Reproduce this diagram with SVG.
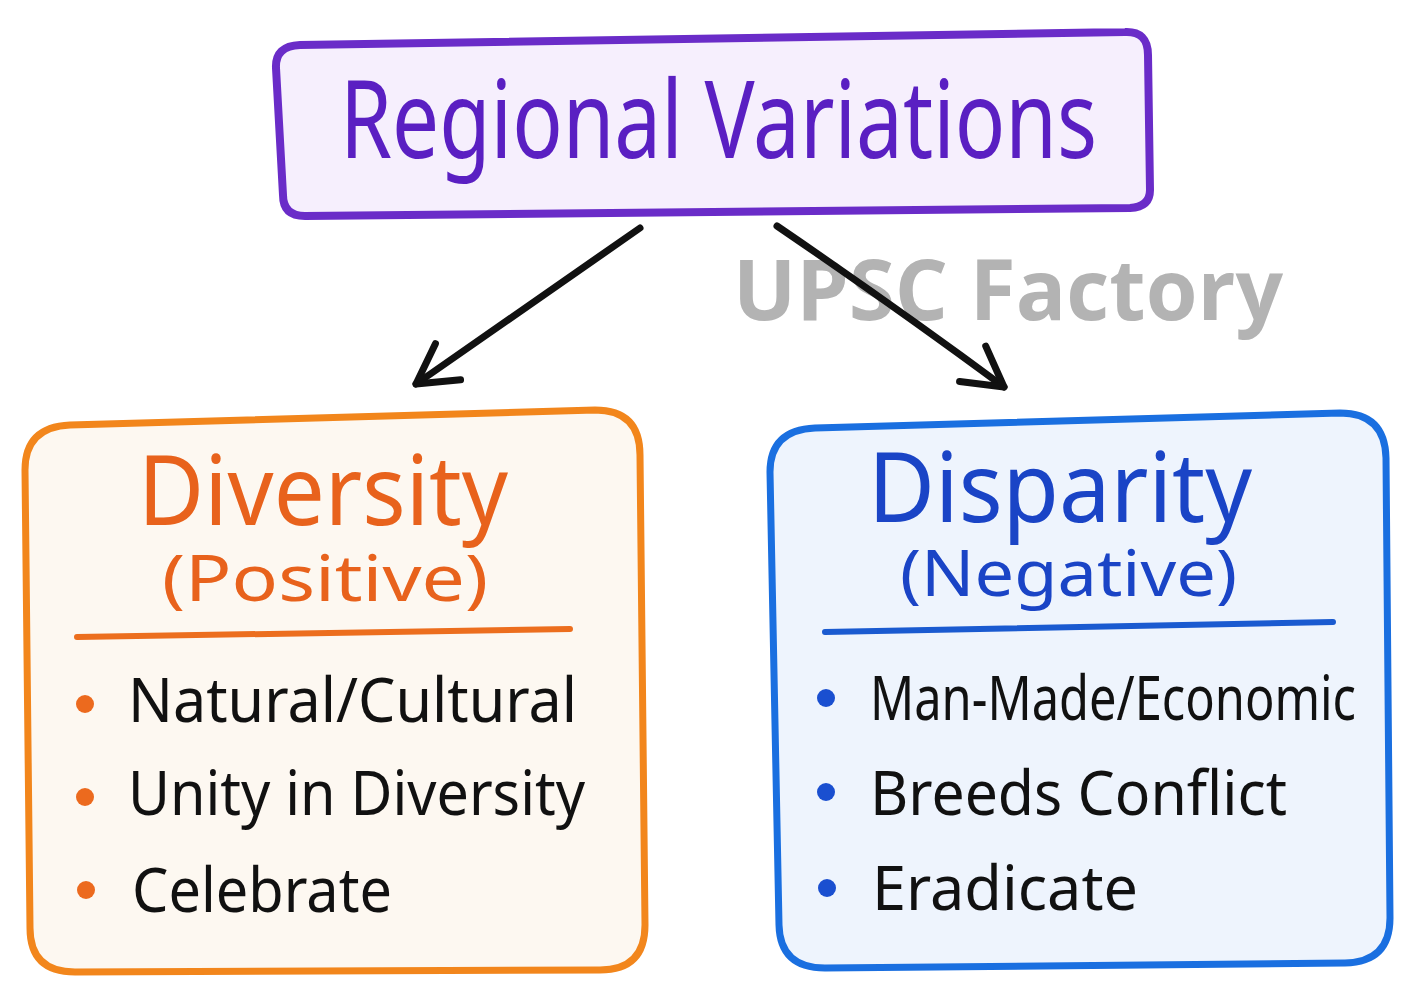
<svg xmlns="http://www.w3.org/2000/svg" width="1413" height="997" viewBox="0 0 1413 997">
  <defs>
    <marker id="chev" markerUnits="userSpaceOnUse" markerWidth="100" markerHeight="100" refX="0" refY="0" orient="auto" overflow="visible" viewBox="-50 -50 100 100">
      <path d="M -39,-22 L 0,0 L -39,22" fill="none" stroke="#111" stroke-width="7" stroke-linecap="round" stroke-linejoin="round"/>
    </marker>
    <style>
      .hand { font-family: "Noto Sans", "Open Sans", "Liberation Sans", sans-serif; }
      .item { font-size: 62px; fill: #111; }
      .conn { fill: none; stroke: #111; stroke-width: 7; stroke-linecap: round; marker-end: url(#chev); }
      .wm { font-family: "Open Sans", "Noto Sans", "Liberation Sans", sans-serif; font-weight: 700; font-size: 84px; fill: #b3b3b3; }
    </style>
  </defs>
  <rect width="1413" height="997" fill="#ffffff"/>

  <g id="node-regional">
    <path d="M 300,45 L 1125,32 Q 1148,31 1148,55 L 1150,190 Q 1150,207 1130,208 L 305,216 Q 283,216 283,195 L 276,68 Q 275,46 300,45 Z" fill="#f6effd" stroke="#6a2cc8" stroke-width="8"/>
    <text class="hand" x="340" y="158" font-size="108" fill="#5a1fc2" textLength="757" lengthAdjust="spacingAndGlyphs">Regional Variations</text>
  </g>

  <text class="wm" x="733" y="320" textLength="550" lengthAdjust="spacingAndGlyphs">UPSC Factory</text>

  <g id="connectors">
    <path class="conn" d="M 640,228 L 416,384"/>
    <path class="conn" d="M 777,226 Q 900,310 1004,387"/>
  </g>

  <g id="node-diversity">
    <path d="M 70,425 L 595,410 Q 640,410 640,455 L 645,925 Q 645,970 600,970 L 75,972 Q 30,972 30,928 L 25,470 Q 25,427 70,425 Z" fill="#fdf8f1" stroke="#f2861c" stroke-width="7"/>
    <text class="hand" x="138" y="525" font-size="96" fill="#e8621c" textLength="370" lengthAdjust="spacingAndGlyphs">Diversity</text>
    <text class="hand" x="162" y="601" font-size="64" fill="#e8621c" textLength="326" lengthAdjust="spacingAndGlyphs">(Positive)</text>
    <path d="M 77,637 L 570,629" stroke="#ec6e1e" stroke-width="6" stroke-linecap="round"/>
    <circle cx="85" cy="704" r="9" fill="#ec6a1e"/>
    <circle cx="85" cy="797" r="9" fill="#ec6a1e"/>
    <circle cx="86" cy="890" r="9" fill="#ec6a1e"/>
    <text class="hand item" x="128" y="722" textLength="449" lengthAdjust="spacingAndGlyphs">Natural/Cultural</text>
    <text class="hand item" x="128" y="815" textLength="457" lengthAdjust="spacingAndGlyphs">Unity in Diversity</text>
    <text class="hand item" x="132" y="912" textLength="260" lengthAdjust="spacingAndGlyphs">Celebrate</text>
  </g>

  <g id="node-disparity">
    <path d="M 815,428 L 1340,413 Q 1385,413 1386,458 L 1390,918 Q 1390,962 1345,963 L 825,968 Q 780,968 779,925 L 770,472 Q 770,430 815,428 Z" fill="#eef4fd" stroke="#1a6fe0" stroke-width="7"/>
    <text class="hand" x="868" y="522" font-size="96" fill="#1a44c6" textLength="384" lengthAdjust="spacingAndGlyphs">Disparity</text>
    <text class="hand" x="900" y="596" font-size="64" fill="#1a44c6" textLength="337" lengthAdjust="spacingAndGlyphs">(Negative)</text>
    <path d="M 825,632 L 1333,622" stroke="#1a5ad0" stroke-width="6" stroke-linecap="round"/>
    <circle cx="826" cy="698" r="9" fill="#1a4fd0"/>
    <circle cx="826" cy="792" r="9" fill="#1a4fd0"/>
    <circle cx="827" cy="888" r="9" fill="#1a4fd0"/>
    <text class="hand item" x="870" y="720" font-size="52" textLength="486" lengthAdjust="spacingAndGlyphs">Man-Made/Economic</text>
    <text class="hand item" x="870" y="815" textLength="417" lengthAdjust="spacingAndGlyphs">Breeds Conflict</text>
    <text class="hand item" x="872" y="910" textLength="266" lengthAdjust="spacingAndGlyphs">Eradicate</text>
  </g>
</svg>
